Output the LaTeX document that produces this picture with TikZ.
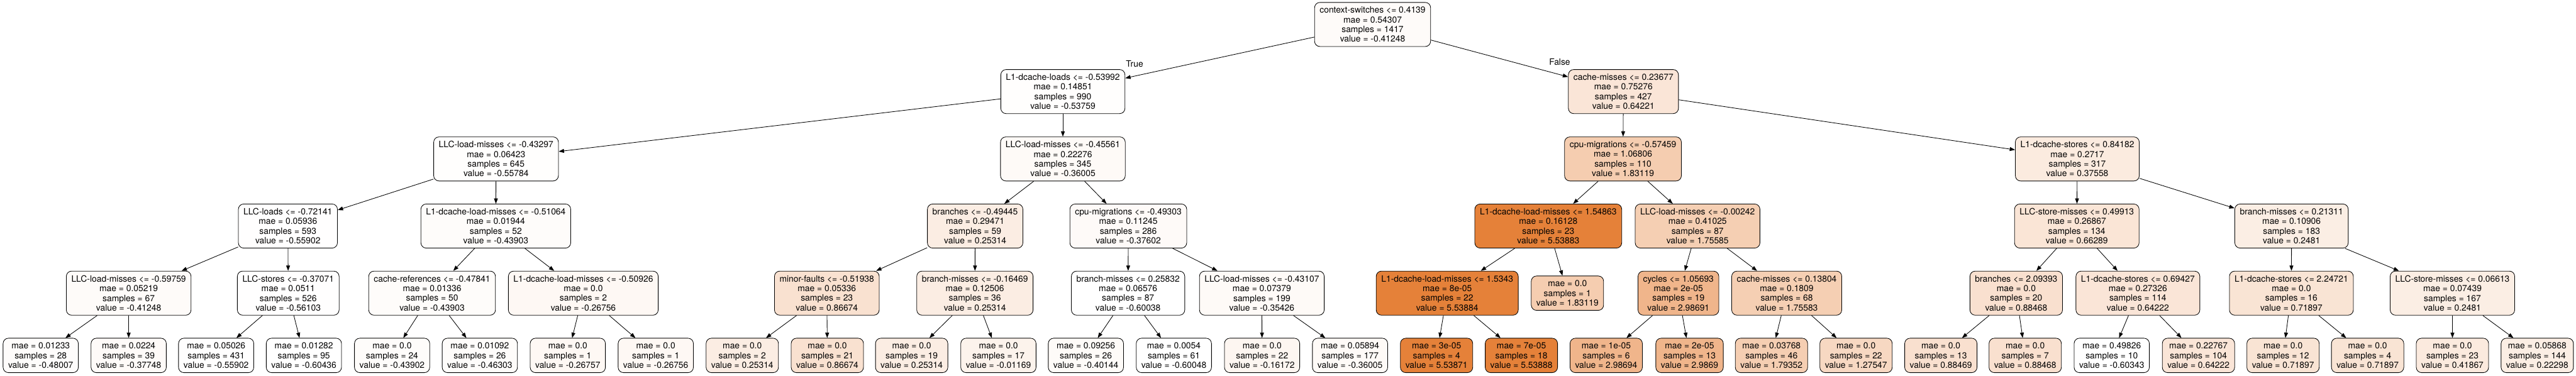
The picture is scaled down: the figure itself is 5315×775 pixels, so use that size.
\documentclass[tikz,border=0pt]{standalone}
\usepackage{fontspec}
\setmainfont{TeX Gyre Heros}
\usetikzlibrary{arrows.meta}
\definecolor{tone}{RGB}{229,129,57}
\tikzset{
  split/.style={draw,rounded corners=11pt,line width=1.1pt,align=center,
    inner xsep=10.5pt,inner ysep=0pt,minimum height=91pt,
    font=\fontsize{18}{20}\selectfont,fill=tone!#1!white},
  leaf/.style={split=#1,minimum height=71pt},
  edgetext/.style={font=\fontsize{18}{20}\selectfont}
}
\begin{document}
\begin{tikzpicture}[x=1pt,y=-1pt,>={Triangle[length=11pt,width=8pt]}]
      \useasboundingbox (0,0) rectangle (5315,775);
      \draw
        (2832,50.5) node[split=3.12] (0){context-switches <= 0.4139\\mae = 0.54307\\samples = 1417\\value = -0.41248}
        (2193,189) node[split=1.09] (1){L1-dcache-loads <= -0.53992\\mae = 0.14851\\samples = 990\\value = -0.53759}
        (1023.5,328) node[split=0.76] (2){LLC-load-misses <= -0.43297\\mae = 0.06423\\samples = 645\\value = -0.55784}
        (594,466.5) node[split=0.74] (3){LLC-loads <= -0.72141\\mae = 0.05936\\samples = 593\\value = -0.55902}
        (265.5,605) node[split=3.12] (4){LLC-load-misses <= -0.59759\\mae = 0.05219\\samples = 67\\value = -0.41248}
        (84,733.5) node[leaf=2.02] (5){mae = 0.01233\\samples = 28\\value = -0.48007}
        (265.5,733.5) node[leaf=3.69] (6){mae = 0.0224\\samples = 39\\value = -0.37748}
        (594.7,605) node[split=0.71] (7){LLC-stores <= -0.37071\\mae = 0.0511\\samples = 526\\value = -0.56103}
        (446,733.5) node[leaf=0.74] (8){mae = 0.05026\\samples = 431\\value = -0.55902}
        (627,733.5) node[leaf=0] (9){mae = 0.01282\\samples = 95\\value = -0.60436}
        (1023,466.5) node[split=2.69] (10){L1-dcache-load-misses <= -0.51064\\mae = 0.01944\\samples = 52\\value = -0.43903}
        (891.5,605) node[split=2.69] (11){cache-references <= -0.47841\\mae = 0.01336\\samples = 50\\value = -0.43903}
        (809,733.5) node[leaf=2.69] (12){mae = 0.0\\samples = 24\\value = -0.43902}
        (990,733.5) node[leaf=2.30] (13){mae = 0.01092\\samples = 26\\value = -0.46303}
        (1203.5,605) node[split=5.48] (14){L1-dcache-load-misses <= -0.50926\\mae = 0.0\\samples = 2\\value = -0.26756}
        (1171.5,733.5) node[leaf=5.48] (15){mae = 0.0\\samples = 1\\value = -0.26757}
        (1353,733.5) node[leaf=5.48] (16){mae = 0.0\\samples = 1\\value = -0.26756}
        (2193,328) node[split=3.98] (17){LLC-load-misses <= -0.45561\\mae = 0.22276\\samples = 345\\value = -0.36005}
        (2012,466.5) node[split=13.96] (18){branches <= -0.49445\\mae = 0.29471\\samples = 59\\value = 0.25314}
        (1706,605) node[split=23.95] (19){minor-faults <= -0.51938\\mae = 0.05336\\samples = 23\\value = 0.86674}
        (1531.5,733.5) node[leaf=13.96] (20){mae = 0.0\\samples = 2\\value = 0.25314}
        (1707,733.5) node[leaf=23.95] (21){mae = 0.0\\samples = 21\\value = 0.86674}
        (2011.5,605) node[split=13.96] (22){branch-misses <= -0.16469\\mae = 0.12506\\samples = 36\\value = 0.25314}
        (1881,733.5) node[leaf=13.96] (23){mae = 0.0\\samples = 19\\value = 0.25314}
        (2060,733.5) node[leaf=9.65] (24){mae = 0.0\\samples = 17\\value = -0.01169}
        (2328,466.5) node[split=3.72] (25){cpu-migrations <= -0.49303\\mae = 0.11245\\samples = 286\\value = -0.37602}
        (2327.5,605) node[split=0.06] (26){branch-misses <= 0.25832\\mae = 0.06576\\samples = 87\\value = -0.60038}
        (2240.5,733.5) node[leaf=3.30] (27){mae = 0.09256\\samples = 26\\value = -0.40144}
        (2422,733.5) node[leaf=0.06] (28){mae = 0.0054\\samples = 61\\value = -0.60048}
        (2603.5,605) node[split=4.07] (29){LLC-load-misses <= -0.43107\\mae = 0.07379\\samples = 199\\value = -0.35426}
        (2604,733.5) node[leaf=7.21] (30){mae = 0.0\\samples = 22\\value = -0.16172}
        (2785.5,733.5) node[leaf=3.98] (31){mae = 0.05894\\samples = 177\\value = -0.36005}
        (3349.5,189) node[split=20.29] (32){cache-misses <= 0.23677\\mae = 0.75276\\samples = 427\\value = 0.64221}
        (3348.6,328) node[split=39.65] (33){cpu-migrations <= -0.57459\\mae = 1.06806\\samples = 110\\value = 1.83119}
        (3194.5,466.5) node[split=100] (34){L1-dcache-load-misses <= 1.54863\\mae = 0.16128\\samples = 23\\value = 5.53883}
        (2986,605) node[split=100] (35){L1-dcache-load-misses <= 1.5343\\mae = 8e-05\\samples = 22\\value = 5.53884}
        (2964,733.5) node[leaf=100] (36){mae = 3e-05\\samples = 4\\value = 5.53871}
        (3139,733.5) node[leaf=100] (37){mae = 7e-05\\samples = 18\\value = 5.53888}
        (3234,605) node[leaf=39.65] (38){mae = 0.0\\samples = 1\\value = 1.83119}
        (3502.5,466.5) node[split=38.42] (39){LLC-load-misses <= -0.00242\\mae = 0.41025\\samples = 87\\value = 1.75585}
        (3463,605) node[split=58.46] (40){cycles <= 1.05693\\mae = 2e-05\\samples = 19\\value = 2.98691}
        (3314,733.5) node[leaf=58.46] (41){mae = 1e-05\\samples = 6\\value = 2.98694}
        (3486,733.5) node[leaf=58.46] (42){mae = 2e-05\\samples = 13\\value = 2.9869}
        (3686.5,605) node[split=38.42] (43){cache-misses <= 0.13804\\mae = 0.1809\\samples = 68\\value = 1.75583}
        (3655,733.5) node[leaf=39.03] (44){mae = 0.03768\\samples = 46\\value = 1.79352}
        (3829.5,733.5) node[leaf=30.60] (45){mae = 0.0\\samples = 22\\value = 1.27547}
        (4286,328) node[split=15.95] (46){L1-dcache-stores <= 0.84182\\mae = 0.2717\\samples = 317\\value = 0.37558}
        (4285,466.5) node[split=20.63] (47){LLC-store-misses <= 0.49913\\mae = 0.26867\\samples = 134\\value = 0.66289}
        (4160,605) node[split=24.24] (48){branches <= 2.09393\\mae = 0.0\\samples = 20\\value = 0.88468}
        (4004.5,733.5) node[leaf=24.24] (49){mae = 0.0\\samples = 13\\value = 0.88469}
        (4178.5,733.5) node[leaf=24.24] (50){mae = 0.0\\samples = 7\\value = 0.88468}
        (4411,605) node[split=20.29] (51){L1-dcache-stores <= 0.69427\\mae = 0.27326\\samples = 114\\value = 0.64222}
        (4357,733.5) node[leaf=0.02] (52){mae = 0.49826\\samples = 10\\value = -0.60343}
        (4536,733.5) node[leaf=20.29] (53){mae = 0.22767\\samples = 104\\value = 0.64222}
        (4728,466.5) node[split=13.88] (54){branch-misses <= 0.21311\\mae = 0.10906\\samples = 183\\value = 0.2481}
        (4727.7,605) node[split=21.54] (55){L1-dcache-stores <= 2.24721\\mae = 0.0\\samples = 16\\value = 0.71897}
        (4710.5,733.5) node[leaf=21.54] (56){mae = 0.0\\samples = 12\\value = 0.71897}
        (4885,733.5) node[leaf=21.54] (57){mae = 0.0\\samples = 4\\value = 0.71897}
        (5060,605) node[split=13.88] (58){LLC-store-misses <= 0.06613\\mae = 0.07439\\samples = 167\\value = 0.2481}
        (5060,733.5) node[leaf=16.65] (59){mae = 0.0\\samples = 23\\value = 0.41867}
        (5235,733.5) node[leaf=13.47] (60){mae = 0.05868\\samples = 144\\value = 0.22298}
        (2341,132) node[edgetext] (true){True}
        (3218,128) node[edgetext] (false){False};
      \begin{scope}[->,line width=1.1pt]
        \draw (0) to (1);
        \draw (0) to (32);
        \draw (1) to (2);
        \draw (1) to (17);
        \draw (2) to (3);
        \draw (2) to (10);
        \draw (3) to (4);
        \draw (3) to (7);
        \draw (4) to (5);
        \draw (4) to (6);
        \draw (7) to (8);
        \draw (7) to (9);
        \draw (10) to (11);
        \draw (10) to (14);
        \draw (11) to (12);
        \draw (11) to (13);
        \draw (14) to (15);
        \draw (14) to (16);
        \draw (17) to (18);
        \draw (17) to (25);
        \draw (18) to (19);
        \draw (18) to (22);
        \draw (19) to (20);
        \draw (19) to (21);
        \draw (22) to (23);
        \draw (22) to (24);
        \draw (25) to (26);
        \draw (25) to (29);
        \draw (26) to (27);
        \draw (26) to (28);
        \draw (29) to (30);
        \draw (29) to (31);
        \draw (32) to (33);
        \draw (32) to (46);
        \draw (33) to (34);
        \draw (33) to (39);
        \draw (34) to (35);
        \draw (34) to (38);
        \draw (35) to (36);
        \draw (35) to (37);
        \draw (39) to (40);
        \draw (39) to (43);
        \draw (40) to (41);
        \draw (40) to (42);
        \draw (43) to (44);
        \draw (43) to (45);
        \draw (46) to (47);
        \draw (46) to (54);
        \draw (47) to (48);
        \draw (47) to (51);
        \draw (48) to (49);
        \draw (48) to (50);
        \draw (51) to (52);
        \draw (51) to (53);
        \draw (54) to (55);
        \draw (54) to (58);
        \draw (55) to (56);
        \draw (55) to (57);
        \draw (58) to (59);
        \draw (58) to (60);
      \end{scope}
    \end{tikzpicture}
\end{document}
